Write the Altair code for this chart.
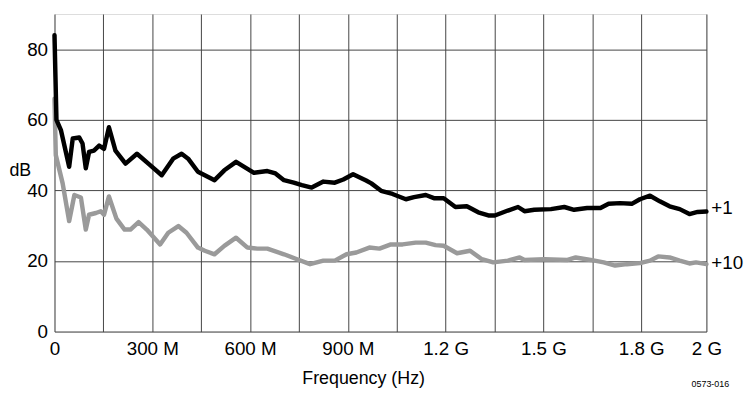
import altair as alt
import pandas as pd

# Frequency in MHz, level in dB
freq_x1 = [0, 3, 6, 20, 45, 56, 76, 86, 96, 106, 121, 137, 152, 167, 187, 218, 253, 288, 329, 364,
           390, 410, 440, 461, 491, 521, 557, 582, 612, 653, 678, 704, 734, 759, 789, 825, 860, 886,
           916, 956, 972, 1002, 1037, 1078, 1103, 1139, 1164, 1194, 1230, 1265, 1300, 1331, 1351,
           1391, 1422, 1442, 1472, 1523, 1564, 1594, 1634, 1675, 1700, 1735, 1771, 1796, 1827, 1857,
           1887, 1918, 1948, 1973, 2000]
db_x1 = [84, 72, 60, 57, 46.7, 54.7, 55, 53.3, 46.3, 50.9, 51.3, 52.7, 51.8, 57.9, 51.3, 47.6, 50.4,
         47.6, 44.3, 49, 50.4, 49, 45.3, 44.3, 42.9, 45.7, 48.1, 46.7, 45, 45.5, 44.8, 42.9, 42.2,
         41.5, 40.8, 42.5, 42.2, 43.1, 44.6, 42.8, 42, 39.9, 39, 37.5, 38.1, 38.7, 37.8, 37.8, 35.3,
         35.5, 33.8, 32.9, 32.9, 34.3, 35.3, 34.1, 34.5, 34.7, 35.3, 34.5, 35, 35, 36.2, 36.4, 36.2,
         37.5, 38.5, 36.9, 35.5, 34.7, 33.3, 33.9, 34]

freq_x10 = [0, 4, 25, 45, 61, 81, 96, 106, 127, 142, 152, 167, 190, 215, 233, 258, 283, 324, 349,
            380, 405, 440, 461, 491, 521, 557, 592, 622, 653, 704, 744, 784, 825, 860, 896, 926, 966,
            997, 1032, 1068, 1108, 1139, 1169, 1194, 1235, 1275, 1311, 1346, 1391, 1427, 1442, 1503,
            1574, 1599, 1645, 1685, 1720, 1756, 1796, 1827, 1852, 1887, 1918, 1948, 1968, 2000]
db_x10 = [66, 50, 42, 31.3, 38.7, 38, 28.9, 33.1, 33.6, 34.1, 33.1, 38.3, 32, 28.9, 28.9, 31, 28.9,
          24.7, 28, 29.9, 28, 23.8, 22.9, 21.9, 24.3, 26.6, 23.8, 23.5, 23.5, 21.9, 20.5, 19.1, 20.1,
          20.1, 21.9, 22.4, 23.8, 23.5, 24.7, 24.7, 25.2, 25.2, 24.5, 24.3, 22.2, 22.9, 20.5, 19.6,
          20.1, 21, 20.3, 20.5, 20.3, 21, 20.3, 19.6, 18.7, 19.1, 19.4, 20.1, 21.3, 21, 20.1, 19.3,
          19.6, 19.1]

series_names = ["+1", "+10"]
series_colors = ["#000000", "#9a9a9a"]
label_freq = [2000, 2000]
label_db = [35.0, 19.4]

x_tick_values = [0, 150, 300, 450, 600, 750, 900, 1050, 1200, 1350, 1500, 1650, 1800, 2000]
x_tick_labels = ["0", "", "300 M", "", "600 M", "", "900 M", "", "1.2 G", "", "1.5 G", "", "1.8 G", "2 G"]
y_tick_values = [0, 10, 20, 30, 40, 50, 60, 70, 80, 90]
y_tick_labels = ["0", "", "20", "", "40", "", "60", "", "80", ""]

note_text = ["0573-016"]

FONT = "Liberation Sans"


def label_expr(values, labels):
    expr = "''"
    for v, l in reversed(list(zip(values, labels))):
        expr = f"datum.value == {v} ? '{l}' : ({expr})"
    return expr


df1 = pd.DataFrame({"freq": freq_x1, "db": db_x1, "series": series_names[0]})
df10 = pd.DataFrame({"freq": freq_x10, "db": db_x10, "series": series_names[1]})
df_lab = pd.DataFrame({"freq": label_freq, "db": label_db, "series": series_names})

x_scale = alt.Scale(domain=[0, 2000], nice=False, zero=False)
y_scale = alt.Scale(domain=[0, 90], nice=False)

GRID = "#444444"

x_axis = alt.Axis(values=x_tick_values, labelExpr=label_expr(x_tick_values, x_tick_labels),
                  grid=True, gridColor=GRID, gridWidth=1, ticks=False, domain=False,
                  labelPadding=8, labelFontSize=19, labelFont=FONT, labelColor="#000000",
                  labelFlush=False, labelOverlap=False,
                  title="Frequency (Hz)", titleFont=FONT, titleFontSize=18, titleFontWeight="normal",
                  titleColor="#000000", titleX=312, titleY=53, titleAlign="center",
                  titleBaseline="alphabetic")
y_axis = alt.Axis(values=y_tick_values, labelExpr=label_expr(y_tick_values, y_tick_labels),
                  grid=True, gridColor=GRID, gridWidth=1, ticks=False, domain=False,
                  labelPadding=7, labelFontSize=19, labelFont=FONT, labelColor="#000000",
                  labelFlush=False, labelOverlap=False,
                  title="dB", titleFont=FONT, titleFontSize=18, titleFontWeight="normal",
                  titleColor="#000000", titleAngle=0, titleX=-35, titleY=158,
                  titleAlign="center", titleBaseline="middle")

color_scale = alt.Scale(domain=series_names, range=series_colors)

base_x = alt.X("freq:Q", scale=x_scale, axis=x_axis)
base_y = alt.Y("db:Q", scale=y_scale, axis=y_axis)

gray = alt.Chart(df10).mark_line(strokeWidth=4.5, strokeJoin="round", strokeCap="round").encode(
    x=base_x, y=base_y,
    color=alt.Color("series:N", scale=color_scale, legend=None))
black = alt.Chart(df1).mark_line(strokeWidth=4.5, strokeJoin="round", strokeCap="round").encode(
    x=alt.X("freq:Q", scale=x_scale), y=alt.Y("db:Q", scale=y_scale),
    color=alt.Color("series:N", scale=color_scale, legend=None))
labels = alt.Chart(df_lab).mark_text(align="left", baseline="middle", dx=5, fontSize=19,
                                     font=FONT, color="#000000").encode(
    x=alt.X("freq:Q", scale=x_scale), y=alt.Y("db:Q", scale=y_scale), text="series:N")
note = alt.Chart(pd.DataFrame({"t": note_text})).mark_text(
    align="right", baseline="middle", fontSize=9, font=FONT, color="#000000").encode(
    x=alt.value(682), y=alt.value(374), text="t:N")

chart = alt.layer(gray, black, labels, note).properties(
    width=659, height=321,
    autosize=alt.AutoSizeParams(type="none"),
    padding={"left": 47, "top": 4, "right": 38, "bottom": 56},
).configure_view(stroke="#000000", strokeWidth=3).configure(background="#ffffff")

chart.save("out.html", embed_options={"renderer": "svg", "actions": False})
